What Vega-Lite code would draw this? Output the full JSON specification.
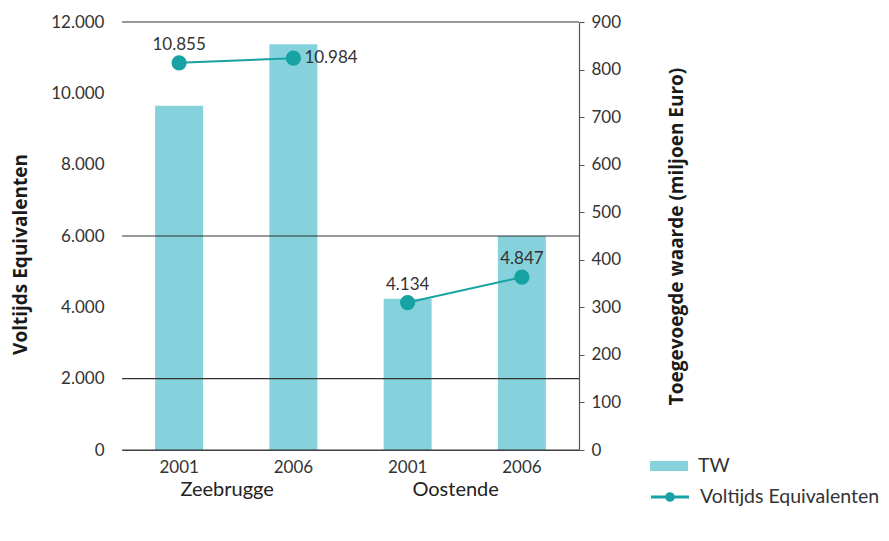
{
  "$schema": "https://vega.github.io/schema/vega-lite/v6.json",
  "width": 457,
  "height": 428,
  "autosize": {"type": "none"},
  "padding": {"left": 122, "top": 22, "right": 310, "bottom": 91},
  "background": "white",
  "config": {
    "font": "Lato",
    "view": {"stroke": null},
    "locale": {"number": {"decimal": ",", "thousands": ".", "grouping": [3], "currency": ["€", ""]}},
    "legend": {"padding": 0, "labelFont": "Lato", "labelFontSize": 19.5, "labelColor": "#333333", "labelLimit": 400, "title": null}
  },
  "data": {
    "values": [
      {"key": "Zeebrugge|2001", "group": "Zeebrugge", "TW": 724, "VE": 10855},
      {"key": "Zeebrugge|2006", "group": "Zeebrugge", "TW": 853, "VE": 10984},
      {"key": "Oostende|2001", "group": "Oostende", "TW": 318, "VE": 4134},
      {"key": "Oostende|2006", "group": "Oostende", "TW": 450, "VE": 4847}
    ]
  },
  "resolve": {"scale": {"y": "independent"}},
  "layer": [
    {
      "mark": {"type": "bar"},
      "encoding": {
        "x": {
          "field": "key", "type": "nominal", "sort": null,
          "scale": {"domain": ["Zeebrugge|2001", "Zeebrugge|2006", "Oostende|2001", "Oostende|2006"], "paddingInner": 0.58, "paddingOuter": 0.29},
          "axis": {"title": null, "labelExpr": "split(datum.label, '|')[1]", "labelAngle": 0, "ticks": false, "domain": true, "domainColor": "#555555", "domainWidth": 1.2, "labelPadding": 9, "labelFontSize": 17, "labelColor": "#333333", "labelFont": "Lato", "grid": false}
        },
        "y": {
          "field": "TW", "type": "quantitative",
          "scale": {"domain": [0, 900], "nice": false},
          "axis": {"orient": "right", "values": [0, 100, 200, 300, 400, 500, 600, 700, 800, 900], "grid": false, "domain": true, "domainColor": "#555555", "domainWidth": 1.2, "ticks": true, "tickColor": "#555555", "tickSize": 5, "labelPadding": 7, "labelFontSize": 17, "labelColor": "#333333", "labelFont": "Lato", "title": "Toegevoegde waarde (miljoen Euro)", "titleFont": "Open Sans", "titleFontSize": 19, "titleFontWeight": "bold", "titleColor": "#1a1a1a", "titleAngle": 270, "titlePadding": 66}
        },
        "fill": {
          "datum": "TW",
          "scale": {"range": ["#85d1dc"]},
          "legend": {"orient": "none", "legendX": 528, "legendY": 425, "symbolType": "M-1,-0.26H1V0.26H-1Z", "symbolSize": 1444, "symbolStrokeWidth": 0, "labelOffset": 10}
        }
      }
    },
    {
      "data": {"values": [{"g": 0}, {"g": 2000}, {"g": 6000}, {"g": 12000}]},
      "mark": {"type": "rule", "color": "#333333", "strokeWidth": 1.2},
      "encoding": {
        "y": {"field": "g", "type": "quantitative", "scale": {"domain": [0, 12000], "nice": false}, "axis": null}
      }
    },
    {
      "mark": {"type": "line", "color": "#17a2a4", "strokeWidth": 2},
      "encoding": {
        "x": {"field": "key", "type": "nominal", "sort": null},
        "y": {
          "field": "VE", "type": "quantitative",
          "scale": {"domain": [0, 12000], "nice": false},
          "axis": {"orient": "left", "values": [0, 2000, 4000, 6000, 8000, 10000, 12000], "format": ",d", "grid": false, "domain": false, "ticks": false, "labelPadding": 18, "labelFontSize": 17, "labelColor": "#333333", "labelFont": "Lato", "title": "Voltijds Equivalenten", "titleFont": "Open Sans", "titleFontSize": 19, "titleFontWeight": "bold", "titleColor": "#1a1a1a", "titlePadding": 20, "titleY": 232}
        },
        "detail": {"field": "group"}
      }
    },
    {
      "mark": {"type": "point", "filled": true, "color": "#17a2a4", "opacity": 1, "size": 175},
      "encoding": {
        "x": {"field": "key", "type": "nominal", "sort": null},
        "y": {"field": "VE", "type": "quantitative", "scale": {"domain": [0, 12000], "nice": false}, "axis": null},
        "stroke": {
          "datum": "Voltijds Equivalenten",
          "scale": {"range": ["#17a2a4"]},
          "legend": {"orient": "none", "legendX": 528, "legendY": 455, "symbolType": "M-1,-0.035H1M-1,0.035H1M-0.05,0A0.05,0.05,0,1,0,0.05,0A0.05,0.05,0,1,0,-0.05,0M-0.11,0A0.11,0.11,0,1,0,0.11,0A0.11,0.11,0,1,0,-0.11,0M-0.17,0A0.17,0.17,0,1,0,0.17,0A0.17,0.17,0,1,0,-0.17,0M-0.21,0A0.21,0.21,0,1,0,0.21,0A0.21,0.21,0,1,0,-0.21,0", "symbolSize": 1444, "symbolStrokeWidth": 1.6, "labelOffset": 10}
        }
      }
    },
    {
      "transform": [{"filter": "datum.key != 'Zeebrugge|2006'"}],
      "mark": {"type": "text", "fontSize": 17, "color": "#333333", "dy": -18, "align": "center", "baseline": "middle"},
      "encoding": {
        "x": {"field": "key", "type": "nominal", "sort": null},
        "y": {"field": "VE", "type": "quantitative", "scale": {"domain": [0, 12000], "nice": false}, "axis": null},
        "text": {"field": "VE", "type": "quantitative", "format": ",d"}
      }
    },
    {
      "transform": [{"filter": "datum.key == 'Zeebrugge|2006'"}],
      "mark": {"type": "text", "fontSize": 17, "color": "#333333", "dx": 11, "align": "left", "baseline": "middle"},
      "encoding": {
        "x": {"field": "key", "type": "nominal", "sort": null},
        "y": {"field": "VE", "type": "quantitative", "scale": {"domain": [0, 12000], "nice": false}, "axis": null},
        "text": {"field": "VE", "type": "quantitative", "format": ",d"}
      }
    },
    {
      "data": {"values": [{"key": "Zeebrugge|2001", "name": "Zeebrugge"}, {"key": "Oostende|2001", "name": "Oostende"}]},
      "mark": {"type": "text", "fontSize": 20, "color": "#222222", "dx": 48, "dy": 40, "align": "center", "baseline": "middle"},
      "encoding": {
        "x": {"field": "key", "type": "nominal", "sort": null},
        "y": {"datum": 0, "type": "quantitative", "scale": {"domain": [0, 12000], "nice": false}, "axis": null},
        "text": {"field": "name"}
      }
    }
  ]
}
